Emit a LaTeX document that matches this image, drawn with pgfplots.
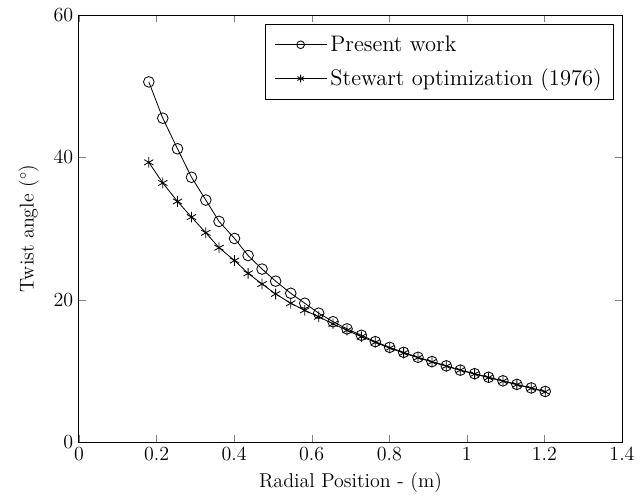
\documentclass[border=0pt]{standalone}
\usepackage{pgfplots}
\pgfplotsset{compat=1.18}
\begin{document}
\begin{tikzpicture}
\begin{axis}[
  scale only axis,
  width=325.8pt, height=256.2pt,
  xmin=0, xmax=1.4, ymin=0, ymax=60,
  xtick={0,0.2,...,1.4}, ytick={0,20,40,60},
  tick align=inside, tick pos=both,
  major tick length=4pt,
  tick label style={font=\large},
  label style={font=\large},
  xlabel={Radial Position - (m)},
  ylabel={Twist angle ($^\circ$)},
  xlabel style={yshift=0pt},
  ylabel style={yshift=2pt},
  axis line style={line width=0.6pt},
  legend style={at={(0.985,0.98)}, anchor=north east, font=\fontsize{13.5}{16}\selectfont, draw=black, line width=0.6pt, cells={anchor=west}, row sep=5pt, inner sep=5pt},
  legend cell align=left,
  legend image code/.code={\draw[#1,sharp plot] (0cm,0cm) -- (1.1cm,0cm); \draw[#1,only marks,mark size=2.3pt] plot coordinates {(0.55cm,0cm)};},
]
\addplot[black, line width=0.5pt, mark=o, mark size=3.2pt] coordinates {
(0.180,50.6) (0.216,45.5) (0.254,41.2) (0.290,37.2) (0.327,34.0) (0.361,31.0)
(0.401,28.6) (0.436,26.2) (0.472,24.3) (0.507,22.6) (0.546,20.9) (0.582,19.5)
(0.618,18.1) (0.655,16.9) (0.691,15.9) (0.728,15.0) (0.764,14.1) (0.801,13.3)
(0.837,12.6) (0.874,11.9) (0.910,11.3) (0.947,10.7) (0.983,10.1) (1.020,9.6)
(1.056,9.1) (1.093,8.6) (1.129,8.1) (1.166,7.6) (1.202,7.1)
};
\addlegendentry{Present work}
\addplot[black, line width=0.5pt, mark=asterisk, mark size=3.2pt] coordinates {
(0.180,39.3) (0.216,36.4) (0.254,33.8) (0.290,31.6) (0.327,29.4) (0.361,27.3)
(0.401,25.5) (0.436,23.7) (0.472,22.2) (0.507,20.8) (0.546,19.5) (0.582,18.5)
(0.618,17.6) (0.655,16.6) (0.691,15.7) (0.728,14.8) (0.764,14.0) (0.801,13.2)
(0.837,12.5) (0.874,11.85) (0.910,11.25) (0.947,10.65) (0.983,10.1) (1.020,9.55)
(1.056,9.05) (1.093,8.55) (1.129,8.05) (1.166,7.55) (1.202,7.05)
};
\addlegendentry{Stewart optimization (1976)}
\end{axis}
\path (-47.4pt,-33pt) rectangle (337.2pt,265.2pt);
\end{tikzpicture}
\end{document}
